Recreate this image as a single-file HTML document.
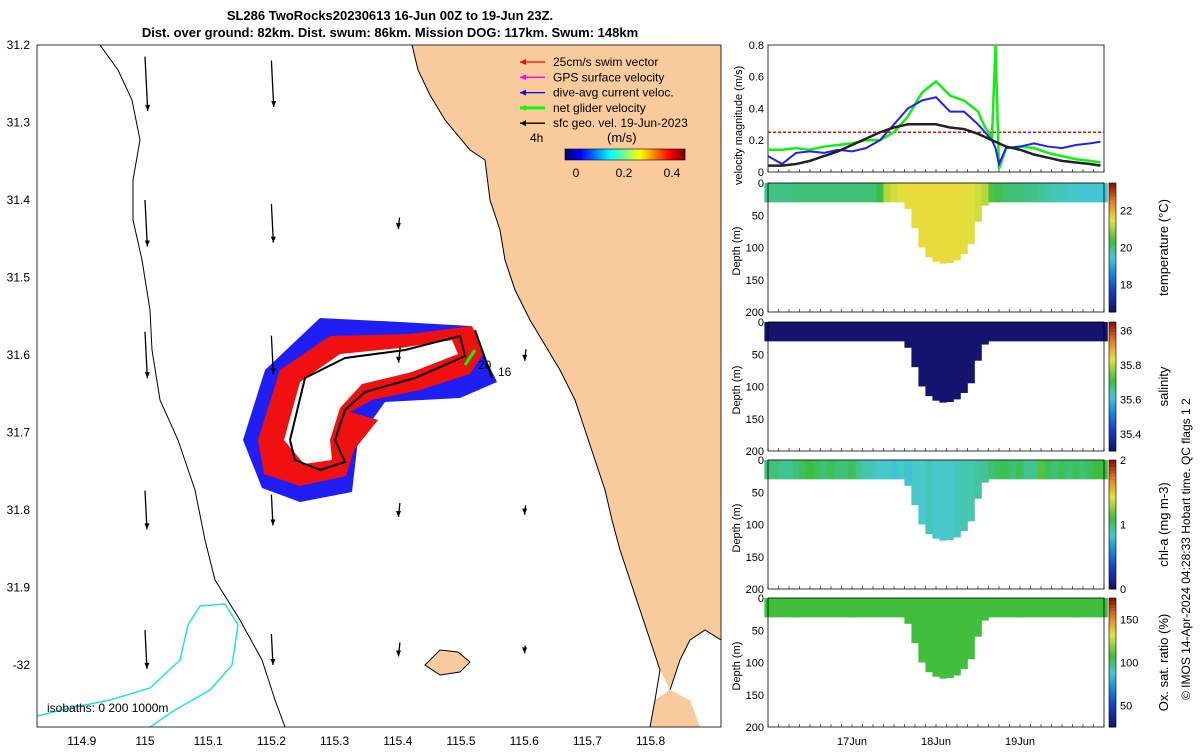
<!DOCTYPE html>
<html><head><meta charset="utf-8"><style>
body{margin:0;background:#fff;font-family:"Liberation Sans",sans-serif}
svg text{font-family:"Liberation Sans",sans-serif}
</style></head><body>
<svg id="c" width="1200" height="750" xmlns="http://www.w3.org/2000/svg">
<text x="390" y="20" font-size="13" font-weight="bold" text-anchor="middle">SL286 TwoRocks20230613 16-Jun 00Z to 19-Jun 23Z.</text>
<text x="390" y="37" font-size="13" font-weight="bold" text-anchor="middle">Dist. over ground: 82km. Dist. swum: 86km. Mission DOG: 117km. Swum: 148km</text>
<g id="map">
<clipPath id="mc"><rect x="37" y="45" width="684" height="682"/></clipPath>
<g clip-path="url(#mc)">
<polygon fill="#f9cb9c" points="412,45 418,70 430,95 445,120 470,150 485,160 490,200 500,230 505,260 515,290 530,320 545,345 560,370 575,400 585,430 595,460 605,490 612,520 620,550 630,580 640,610 650,640 660,670 670,690 680,660 690,640 705,630 721,640 721,45"/>
<polygon fill="#f9cb9c" points="650,727 655,700 670,690 690,700 700,727"/>
<polyline fill="none" stroke="#000" stroke-width="1" points="412,45 418,70 430,95 445,120 470,150 485,160 490,200 500,230 505,260 515,290 530,320 545,345 560,370 575,400 585,430 595,460 605,490 612,520 620,550 630,580 640,610 650,640 660,670 655,700 650,727"/>
<polyline fill="none" stroke="#000" points="670,690 680,660 690,640 705,630 721,640"/>
<polygon fill="#f9cb9c" stroke="#000" points="425,665 440,650 458,652 470,662 460,672 440,675"/>
<polyline fill="none" stroke="#000" points="100,45 118,70 132,100 140,140 133,180 133,220 142,260 150,310 152,350 160,400 178,440 195,490 205,540 215,580 240,620 262,660 275,700 285,727"/>
<polyline fill="none" stroke="#24e0e8" stroke-width="1.5" points="37,716 70,708 110,700 150,688 180,660 188,625 200,606 225,604 238,625 232,665 210,690 175,710 150,727"/>
<polygon fill="#1f1ff5" points="243,440 265,370 320,318 400,322 470,326 497,382 460,398 385,402 358,440 352,492 300,502 262,488"/>
<polygon fill="#f01010" points="258,440 280,370 330,336 410,334 472,326 484,352 470,374 420,390 372,400 350,412 378,420 354,450 346,476 300,486 264,474"/>
<polygon fill="#fff" points="284,440 300,382 340,354 400,348 452,340 458,354 412,372 362,384 340,408 330,440 332,460 304,464"/>
<polyline fill="none" stroke="#000" stroke-width="2" points="290,440 305,378 345,358 405,350 460,336 465,356 415,378 365,392 345,410 335,440 345,462 320,470 295,460 290,440"/>
<line x1="475" y1="330" x2="492" y2="378" stroke="#000" stroke-width="2"/>
<line x1="465" y1="365" x2="475" y2="350" stroke="#0f0" stroke-width="3"/>
<text x="478" y="369" font-size="12">20</text>
<text x="498" y="376" font-size="12">16</text>
<g id="arrows"></g>
</g>
<rect x="37" y="45" width="684" height="682" fill="none" stroke="#000" stroke-width="0.8"/>
<g id="maxis"></g>
<text x="47" y="712" font-size="12">isobaths: 0   200  1000m</text>
<g id="legend"></g>
</g>
<g id="vel"></g>
<g id="prof"></g>
<text transform="translate(1190,700) rotate(-90)" font-size="12">© IMOS 14-Apr-2024 04:28:33 Hobart time. QC flags 1  2</text>
</svg>
<script>
const NS="http://www.w3.org/2000/svg";
function mk(t,a,p,txt){const e=document.createElementNS(NS,t);for(const k in a)e.setAttribute(k,a[k]);if(txt!==undefined)e.textContent=txt;p.appendChild(e);return e;}
// ---- map data
const lonTicks=[114.9,115,115.1,115.2,115.3,115.4,115.5,115.6,115.7,115.8];
const latTicks=[31.2,31.3,31.4,31.5,31.6,31.7,31.8,31.9,32];
const latLabels=["31.2","31.3","31.4","31.5","31.6","31.7","31.8","31.9","-32"];
const arrowLon=[115,115.2,115.4,115.6];
const arrowLat=[31.25,31.43,31.6,31.8,31.98];
const arrowLen=[[0.07,0.06,0.06,0.05,0.05],[0.06,0.05,0.05,0.04,0.04],[0,0.015,0.02,0.018,0.018],[0,0,0.015,0.012,0.01]];
const mx=v=>145+(v-115)*632, my=v=>45+(v-31.2)*775;
const ma=document.getElementById('maxis');
lonTicks.forEach(v=>{const t=mk('text',{x:mx(v),y:745,'font-size':12,'text-anchor':'middle'},ma,String(v));

});
latTicks.forEach((v,i)=>{const t=mk('text',{x:30,y:my(v)+4,'font-size':12,'text-anchor':'end'},ma,latLabels[i]);

});
const ag=document.getElementById('arrows');
arrowLon.forEach((lo,i)=>arrowLat.forEach((la,j)=>{const L=arrowLen[i][j]*775;if(L<=0)return;const x=mx(lo),y=my(la)-L/2;
const g=mk('g',{},ag);


const hx=x+L*0.05;
mk('line',{x1:x+(i>=2?L*0.15:0),y1:y,x2:hx,y2:y+L,stroke:'#000','stroke-width':1.3},g);
mk('polygon',{points:`${hx-2.5},${y+L-6} ${hx+2.5},${y+L-6} ${hx},${y+L}`,fill:'#000'},g);}));
const lg=document.getElementById('legend');
const legItems=[["25cm/s swim vector","#f00"],["GPS surface velocity","#f0f"],["dive-avg current veloc.","#00f"],["net glider velocity","#0f0"],["sfc geo. vel. 19-Jun-2023","#000"]];
legItems.forEach((d,i)=>{const y=62+i*15.3;const g=mk('g',{},lg);


mk('line',{x1:520,y1:y,x2:545,y2:y,stroke:d[1],'stroke-width':i==3?3:1.3},g);
mk('polygon',{points:`520,${y} 526,${y-3} 526,${y+3}`,fill:d[1]},g);
mk('text',{x:553,y:y+4,'font-size':12},g,d[0]);});
mk('text',{x:530,y:142,'font-size':12},lg,'4h');
mk('text',{x:607,y:142,'font-size':13},lg,'(m/s)');
const cstops=[[0,[20,20,110]],[0.15,[20,60,200]],[0.3,[20,140,220]],[0.42,[70,200,210]],[0.55,[60,190,60]],[0.72,[230,225,60]],[0.86,[230,130,30]],[1,[150,20,10]]];
function cmap(t){t=Math.max(0,Math.min(1,t));for(let i=1;i<cstops.length;i++){if(t<=cstops[i][0]){const a=cstops[i-1],b=cstops[i],f=(t-a[0])/(b[0]-a[0]);const c=a[1].map((v,k)=>Math.round(v+(b[1][k]-v)*f));return `rgb(${c})`;}}return 'rgb(150,20,10)';}
function jet(t){t=Math.max(0,Math.min(1,t));const r=Math.min(1,Math.max(0,1.5-Math.abs(4*t-3))),g=Math.min(1,Math.max(0,1.5-Math.abs(4*t-2))),b=Math.min(1,Math.max(0,1.5-Math.abs(4*t-1)));return `rgb(${r*255|0},${g*255|0},${b*255|0})`;}
for(let i=0;i<60;i++)mk('rect',{x:565+i*2,y:149,width:2.2,height:11,fill:jet(i/59)},lg);
mk('rect',{x:565,y:149,width:120,height:11,fill:'none',stroke:'#000','stroke-width':0.6},lg);
[["0",576],["0.2",624],["0.4",672]].forEach(d=>mk('text',{x:d[1],y:177,'font-size':12,'text-anchor':'middle'},lg,d[0]));
// ---- velocity panel
const hours=[0,4,8,12,16,20,24,28,32,36,40,44,48,52,56,60,62,64,65,66,68,72,76,80,84,88,92,95];
const greenVel=[0.14,0.14,0.15,0.14,0.16,0.17,0.18,0.2,0.2,0.25,0.35,0.5,0.57,0.48,0.45,0.38,0.28,0.22,0.8,0.02,0.15,0.16,0.15,0.12,0.1,0.08,0.07,0.06];
const blueVel=[0.1,0.05,0.12,0.13,0.12,0.14,0.13,0.15,0.2,0.3,0.4,0.45,0.47,0.38,0.38,0.3,0.25,0.2,0.15,0.05,0.15,0.16,0.18,0.16,0.15,0.17,0.18,0.19];
const blackVel=[0.04,0.04,0.05,0.07,0.1,0.13,0.17,0.21,0.25,0.28,0.3,0.3,0.3,0.28,0.27,0.24,0.22,0.2,0.19,0.18,0.16,0.14,0.11,0.09,0.07,0.06,0.05,0.04];
const swimRef=[0.25,0.25];
const vx=h=>768+h*3.5, vy=v=>172-v*159;
const vg=document.getElementById('vel');
mk('rect',{x:768,y:45,width:336,height:127,fill:'#fff',stroke:'#000','stroke-width':0.8},vg);
[0,0.2,0.4,0.6,0.8].forEach(v=>{mk('text',{x:764,y:vy(v)+4,'font-size':11,'text-anchor':'end'},vg,String(v));});
for(let h=0;h<=96;h+=3)mk('line',{x1:vx(h),y1:172,x2:vx(h),y2:169,stroke:'#000','stroke-width':0.6},vg);
mk('text',{transform:'translate(742,185) rotate(-90)','font-size':11},vg,'velocity magnitude (m/s)');
const rl=mk('line',{x1:vx(0),y1:vy(swimRef[0]),x2:vx(96),y2:vy(swimRef[1]),stroke:'#f00','stroke-width':1.5,'stroke-dasharray':'3,2'},vg);


function series(arr,col,w,name){const p=mk('polyline',{points:hours.map((h,i)=>vx(h)+','+vy(arr[i])).join(' '),fill:'none',stroke:col,'stroke-width':w},vg);

}
series(greenVel,'#1e1',2.5,'net-velocity-line');
series(blueVel,'#22e',2,'current-velocity-line');
series(blackVel,'#222',2.5,'geostrophic-velocity-line');
// ---- profile panels
const tProf=[];for(let h=0;h<=96;h+=2)tProf.push(h);
const maxDepth=[30,30,30,30,30,30,30,30,30,30,30,30,30,30,30,30,30,30,30,30,40,70,100,115,122,125,124,120,110,95,60,35,30,30,30,30,30,30,30,30,30,30,30,30,30,30,30,30,30];
const tempVal=[19.9,19.9,19.9,19.9,20,20,20,20,20,20,20,20,20,20,20,20,20.3,21.2,21.4,21.5,21.6,21.6,21.6,21.6,21.6,21.6,21.6,21.6,21.6,21.5,21.4,21.2,20.5,20.2,20.1,20,20,19.9,19.9,19.8,19.7,19.6,19.6,19.5,19.5,19.4,19.4,19.4,19.4];
const salVal=tProf.map(()=>35.3);
const chlVal=[1.0,1.0,0.95,0.95,1.0,1.05,1.1,1.05,1.0,1.05,1.0,1.0,1.05,0.95,0.9,0.88,0.85,0.85,0.82,0.85,0.82,0.85,0.85,0.88,0.85,0.85,0.85,0.88,0.9,0.9,0.92,0.95,1.0,1.05,1.05,1.0,1.05,0.95,0.95,1.15,1.05,1.0,1.05,1.0,1.05,1.0,1.05,1.1,1.1];
const oxVal=tProf.map(()=>108);
const panels=[
 {y:183,vals:tempVal,min:16.5,max:23.5,ticks:[18,20,22],label:'temperature (°C)',name:'temperature'},
 {y:322,vals:salVal,min:35.3,max:36.05,ticks:[35.4,35.6,35.8,36],label:'salinity',name:'salinity'},
 {y:460,vals:chlVal,min:0,max:2,ticks:[0,1,2],label:'chl-a (mg m-3)',name:'chlorophyll'},
 {y:598,vals:oxVal,min:25,max:175,ticks:[50,100,150],label:'Ox. sat. ratio (%)',name:'oxygen'}];
const pg=document.getElementById('prof');
panels.forEach((P,k)=>{const g=mk('g',{},pg);


const H=129,dy=d=>P.y+d/200*H;
mk('rect',{x:768,y:P.y,width:336,height:H,fill:'#fff'},g);
tProf.forEach((h,i)=>{const r=mk('rect',{x:vx(h)-3.6,y:P.y,width:7.4,height:dy(maxDepth[i])-P.y,fill:cmap((P.vals[i]-P.min)/(P.max-P.min))},g);

});
mk('rect',{x:768,y:P.y,width:336,height:H,fill:'none',stroke:'#000','stroke-width':0.8},g);
[0,50,100,150,200].forEach(d=>mk('text',{x:764,y:dy(d)+4,'font-size':11,'text-anchor':'end'},g,String(d)));
for(let h=0;h<=96;h+=3)mk('line',{x1:vx(h),y1:P.y+H,x2:vx(h),y2:P.y+H-3,stroke:'#000','stroke-width':0.6},g);
mk('text',{transform:`translate(740,${P.y+H/2+28}) rotate(-90)`,'font-size':11},g,'Depth (m)');
for(let i=0;i<40;i++)mk('rect',{x:1109,y:P.y+H-(i+1)*H/40,width:7,height:H/40+0.5,fill:cmap(i/39)},g);
mk('rect',{x:1109,y:P.y,width:7,height:H,fill:'none',stroke:'#000','stroke-width':0.6},g);
P.ticks.forEach(t=>{const y=P.y+H-(t-P.min)/(P.max-P.min)*H;mk('text',{x:1120,y:y+4,'font-size':11},g,String(t));});
mk('text',{transform:`translate(1168,${P.y+H/2}) rotate(-90)`,'font-size':13,'text-anchor':'middle'},g,P.label);});
[["17Jun",852],["18Jun",936],["19Jun",1020]].forEach(d=>mk('text',{x:d[1],y:745,'font-size':11,'text-anchor':'middle'},pg,d[0]));
</script>
</body></html>
